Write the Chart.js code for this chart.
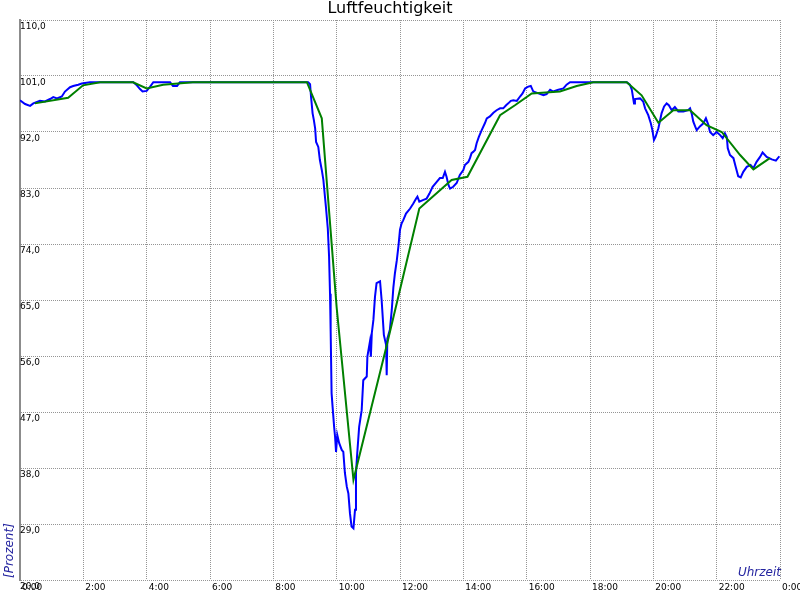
<!DOCTYPE html>
<html lang="de">
<head>
<meta charset="utf-8">
<title>Luftfeuchtigkeit</title>
<script src="https://cdn.jsdelivr.net/npm/chart.js@4.4.1/dist/chart.umd.min.js"></script>
<style>
    html, body { margin: 0; padding: 0; background: #fff; }
    #chart { display: block; }
</style>
</head>
<body>
<canvas id="chart" width="800" height="600"></canvas>
<script>
// Messreihe (blau): Uhrzeit in Stunden, Feuchte in Prozent
const blueHours = [
    0.00, 0.16, 0.32, 0.42, 0.63, 0.79, 0.95, 1.05, 1.17, 1.32, 1.42, 1.58, 1.68, 1.84, 1.95, 2.21,
    3.58, 3.69, 3.79, 3.87, 4.00, 4.11, 4.21, 4.74, 4.83, 4.96, 5.05,
    9.10, 9.16, 9.19, 9.24, 9.28, 9.32, 9.35, 9.42, 9.47, 9.53, 9.58, 9.63, 9.66, 9.72, 9.76,
    9.79, 9.81, 9.84, 9.87, 9.92, 9.95, 9.98, 10.02, 10.08, 10.16, 10.21, 10.26, 10.32, 10.37,
    10.42, 10.47, 10.53, 10.58, 10.61, 10.65, 10.71, 10.79, 10.84, 10.95, 10.97, 11.05, 11.08,
    11.11, 11.16, 11.21, 11.26, 11.37, 11.42, 11.49, 11.56, 11.58, 11.60, 11.68, 11.74, 11.79,
    11.84, 11.90, 11.95, 12.00, 12.05, 12.10, 12.19, 12.32, 12.42, 12.51, 12.55, 12.61, 12.74,
    12.84, 12.93, 13.03, 13.16, 13.26, 13.35, 13.42, 13.47, 13.53, 13.58, 13.68, 13.79, 13.89,
    14.00, 14.05, 14.16, 14.21, 14.26, 14.31, 14.37, 14.42, 14.49, 14.58, 14.68, 14.74, 14.84,
    14.95, 15.05, 15.16, 15.26, 15.35, 15.42, 15.50, 15.58, 15.69, 15.79, 15.87, 15.95, 16.05,
    16.13, 16.21, 16.37, 16.53, 16.63, 16.74, 16.84, 17.00, 17.16, 17.26, 17.37,
    19.16, 19.26, 19.32, 19.39, 19.42, 19.58, 19.68, 19.74, 19.84, 19.92, 19.97, 20.02, 20.07,
    20.16, 20.26, 20.34, 20.42, 20.49, 20.58, 20.68, 20.79, 20.95, 21.10, 21.16, 21.21, 21.26,
    21.32, 21.37, 21.47, 21.58, 21.66, 21.74, 21.79, 21.89, 22.00, 22.11, 22.19, 22.26, 22.32,
    22.35, 22.42, 22.53, 22.60, 22.68, 22.76, 22.84, 22.95, 23.07, 23.16, 23.26, 23.37, 23.45,
    23.58, 23.74, 23.87, 23.98
];
const blueValues = [
    97.1, 96.5, 96.2, 96.6, 97.0, 96.9, 97.3, 97.6, 97.4, 97.7, 98.5, 99.2, 99.4, 99.6, 99.8, 100,
    100, 99.5, 98.9, 98.5, 98.6, 99.3, 100, 100, 99.4, 99.4, 100,
    100, 99.7, 97.7, 95.0, 93.9, 92.6, 90.4, 89.6, 87.5, 85.9, 84.3, 81.6, 80.0, 76.5, 72.0,
    66.0, 60.0, 50.0, 47.9, 44.6, 43.0, 40.6, 43.3, 42.0, 40.9, 40.6, 37.2, 35.0, 33.9,
    30.7, 28.6, 28.3, 31.3, 37.2, 40.4, 44.6, 47.3, 52.1, 52.7, 55.9, 58.3, 55.9,
    59.7, 61.8, 65.5, 67.7, 68.0, 65.0, 59.4, 57.8, 52.9, 58.8, 60.2, 63.4, 67.0,
    69.3, 71.4, 73.6, 76.3, 77.3, 77.8, 78.9, 79.7, 80.5, 81.3, 81.6, 80.8, 81.1,
    81.3, 82.1, 83.2, 84.0, 84.6, 84.6, 85.6, 84.8, 83.5, 82.9, 83.2, 83.8, 85.1,
    85.9, 86.7, 87.2, 87.8, 88.6, 88.8, 89.1, 90.2, 91.2, 92.3, 93.4, 94.2, 94.5,
    95.1, 95.5, 95.8, 95.8, 96.3, 96.6, 97.0, 97.1, 97.0, 97.7, 98.2, 99.0, 99.3,
    99.4, 98.5, 98.2, 97.9, 98.1, 98.8, 98.5, 98.8, 99.0, 99.6, 100,
    100, 99.6, 98.8, 96.6, 97.3, 97.4, 96.9, 95.8, 94.7, 93.4, 92.3, 90.7, 91.2,
    92.6, 95.0, 96.1, 96.6, 96.3, 95.5, 96.0, 95.3, 95.3, 95.5, 95.8, 95.0, 93.7,
    92.9, 92.3, 92.9, 93.4, 94.2, 93.1, 92.0, 91.5, 92.0, 91.5, 91.0, 91.8, 91.2,
    89.4, 88.3, 87.8, 86.4, 84.9, 84.7, 85.6, 86.4, 86.7, 86.2, 87.2, 88.0, 88.7,
    88.0, 87.6, 87.4, 88.1
];

// Mittelwerte (gruen)
const greenHours = [
    0.47, 1.52, 1.99, 2.53, 3.57, 4.00, 4.52, 5.46, 9.06, 9.53, 10.00, 10.53, 11.57, 12.61,
    13.63, 14.13, 15.16, 15.63, 16.16, 17.05, 17.58, 18.10, 19.16, 19.63, 20.16, 20.63,
    21.16, 21.68, 22.16, 22.74, 23.16, 23.68
];
const greenValues = [
    96.6, 97.5, 99.5, 100, 100, 99.0, 99.6, 100, 100, 94.2, 63.8, 36.1, 57.5, 79.7,
    84.3, 84.8, 94.7, 96.3, 98.2, 98.5, 99.4, 100, 100, 97.9, 93.5, 95.5,
    95.5, 93.1, 92.0, 88.3, 86.0, 87.8
];

// Achsenbeschriftungen
const xTickHours = [0, 2, 4, 6, 8, 10, 12, 14, 16, 18, 20, 22, 24];
const xTickLabels = ['0:00', '2:00', '4:00', '6:00', '8:00', '10:00', '12:00',
    '14:00', '16:00', '18:00', '20:00', '22:00', '0:00'];
const yTickValues = [20, 29, 38, 47, 56, 65, 74, 83, 92, 101, 110];
const yTickLabels = ['20,0', '29,0', '38,0', '47,0', '56,0', '65,0', '74,0',
    '83,0', '92,0', '101,0', '110,0'];

const captionColor = '#2424a0';
const gridColor = '#959595';

function toPoints(xs, ys) {
    return xs.map((x, i) => ({ x: x, y: ys[i] }));
}

// Achsentitel im Diagrammbereich, wie im Original
const axisCaptions = {
    id: 'axisCaptions',
    afterDraw(chart) {
        const ctx = chart.ctx;
        const area = chart.chartArea;
        ctx.save();
        ctx.fillStyle = captionColor;
        ctx.font = 'italic 12px "DejaVu Sans"';
        ctx.textBaseline = 'alphabetic';
        ctx.textAlign = 'right';
        ctx.fillText('Uhrzeit', area.right + 1, area.bottom - 4);
        ctx.translate(area.left - 7, area.bottom - 2);
        ctx.rotate(-Math.PI / 2);
        ctx.textAlign = 'left';
        ctx.fillText('[Prozent]', 0, 0);
        ctx.restore();
    }
};

Chart.defaults.font.family = '"DejaVu Sans", sans-serif';
Chart.defaults.color = '#000';

const ctx = document.getElementById('chart').getContext('2d');
new Chart(ctx, {
    type: 'line',
    data: {
        datasets: [
            {
                label: 'Mittel',
                data: toPoints(greenHours, greenValues),
                borderColor: '#008000',
                borderWidth: 2,
                pointRadius: 0,
                tension: 0
            },
            {
                label: 'Feuchte',
                data: toPoints(blueHours, blueValues),
                borderColor: '#0000ff',
                borderWidth: 2,
                pointRadius: 0,
                tension: 0
            }
        ]
    },
    options: {
        responsive: false,
        animation: false,
        devicePixelRatio: 1,
        events: [],
        layout: { padding: { left: 0, right: 20, top: 0, bottom: 0 } },
        plugins: {
            legend: { display: false },
            tooltip: { enabled: false },
            title: {
                display: true,
                text: 'Luftfeuchtigkeit',
                color: '#000',
                font: { size: 16, weight: 'normal', lineHeight: 1 },
                padding: { top: 1, bottom: 3 }
            }
        },
        scales: {
            x: {
                type: 'linear',
                min: 0,
                max: 24,
                afterBuildTicks: scale => {
                    scale.ticks = xTickHours.map(v => ({ value: v }));
                },
                afterFit: scale => {
                    scale.height = 20;
                    scale.paddingLeft = 0;
                    scale.paddingRight = 0;
                },
                ticks: {
                    autoSkip: false,
                    maxRotation: 0,
                    align: 'start',
                    labelOffset: 2,
                    padding: 2,
                    font: { size: 9 },
                    callback: (value, index) => xTickLabels[index]
                },
                grid: { color: gridColor, lineWidth: 1, drawTicks: false },
                border: { display: false, dash: [1, 1] }
            },
            y: {
                type: 'linear',
                min: 20,
                max: 110,
                afterBuildTicks: scale => {
                    scale.ticks = yTickValues.map(v => ({ value: v }));
                },
                afterFit: scale => {
                    scale.width = 20;
                    scale.paddingTop = 0;
                    scale.paddingBottom = 0;
                },
                ticks: {
                    mirror: true,
                    padding: 0,
                    labelOffset: 7,
                    font: { size: 9 },
                    callback: (value, index) => yTickLabels[index]
                },
                grid: { color: gridColor, lineWidth: 1, drawTicks: false },
                border: { display: true, color: '#8c8c8c', width: 2, dash: [1, 1] }
            }
        }
    },
    plugins: [axisCaptions]
});
</script>
</body>
</html>
